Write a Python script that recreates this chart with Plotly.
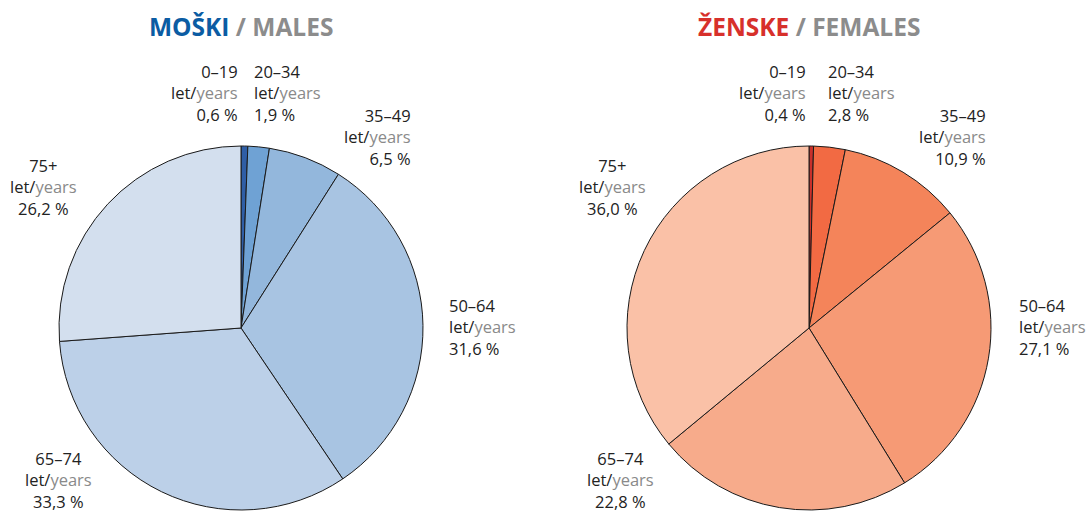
import plotly.graph_objects as go

W, H = 1086, 513

# ── Data ────────────────────────────────────────────────────────────────
age_groups = ["0–19", "20–34", "35–49", "50–64", "65–74", "75+"]
males = [0.6, 1.9, 6.5, 31.6, 33.3, 26.2]
females = [0.4, 2.8, 10.9, 27.1, 22.8, 36.0]

male_colors = ["#2f5ea6", "#6fa2d4", "#93b7dc", "#a8c4e2", "#bcd0e8", "#d3dfee"]
female_colors = ["#c9302b", "#f26a43", "#f4845a", "#f69a75", "#f7ab8b", "#fac1a7"]

# pixel centres / radius of the two pies
R = 182
CY = 328
CX_M, CX_F = 241, 809

# label anchors (px): x, y, align
male_lbl = [(240, 93, "right"), (252, 93, "left"), (413, 137, "right"),
            (447, 327, "left"), (58, 480, "center"), (43, 187, "center")]
female_lbl = [(808, 93, "right"), (826, 93, "left"), (988, 137, "right"),
              (1017, 327, "left"), (620, 480, "center"), (612, 187, "center")]


def dom(cx):
    return dict(x=[(cx - R) / W, (cx + R) / W],
                y=[(H - CY - R) / H, (H - CY + R) / H])


def pct(v):
    return f"{v:.1f}".replace(".", ",") + " %"


fig = go.Figure()
for vals, cols, cx in [(males, male_colors, CX_M), (females, female_colors, CX_F)]:
    fig.add_trace(go.Pie(
        labels=age_groups, values=vals, sort=False, direction="clockwise",
        rotation=0, domain=dom(cx), textinfo="none", hoverinfo="label+value",
        marker=dict(colors=cols, line=dict(color="#1a1a1a", width=1)),
        showlegend=False,
    ))

ann = []
for vals, lbls in [(males, male_lbl), (females, female_lbl)]:
    for g, v, (x, y, al) in zip(age_groups, vals, lbls):
        ann.append(dict(
            x=x / W, y=1 - y / H, xref="paper", yref="paper",
            xanchor=al, yanchor="middle", align=al, showarrow=False,
            text=f"{g}<br>let/<span style='color:#8a8a8a'>years</span><br>{pct(v)}",
            font=dict(size=16.5, color="#222222", family="Open Sans, sans-serif"),
        ))

for cx, word, col, eng in [(CX_M, "MOŠKI", "#0b5ca3", "MALES"),
                           (CX_F, "ŽENSKE", "#d7302b", "FEMALES")]:
    ann.append(dict(
        x=cx / W, y=1 - 27 / H, xref="paper", yref="paper",
        xanchor="center", yanchor="middle", showarrow=False,
        text=f"<b><span style='color:{col}'>{word}</span> / {eng}</b>",
        font=dict(size=24.5, color="#8c8c8c", family="Open Sans, sans-serif"),
    ))

fig.update_layout(
    width=W, height=H,
    margin=dict(l=0, r=0, t=0, b=0),
    paper_bgcolor="white", plot_bgcolor="white",
    annotations=ann,
)
fig.write_html("out.html", config={"displayModeBar": False},
               post_script="document.body.style.margin='0';")
